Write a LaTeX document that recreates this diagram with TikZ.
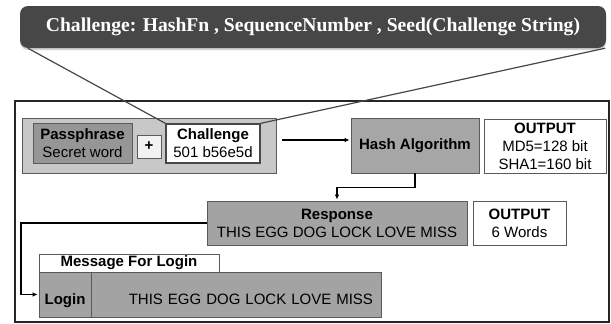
\documentclass[tikz,border=0pt]{standalone}
\usepackage{fontspec}
\setmainfont{Liberation Sans}
\newfontfamily\calloutfont{Liberation Serif}
\usetikzlibrary{arrows.meta, shadows}
\definecolor{darkbox}{HTML}{474747}
\definecolor{grpfill}{HTML}{C8C8C8}
\definecolor{passfill}{HTML}{969696}
\definecolor{plusfill}{HTML}{F2F2F2}
\definecolor{hashfill}{HTML}{A6A6A6}
\definecolor{respfill}{HTML}{A3A3A3}
\definecolor{boxline}{HTML}{5A5A5A}

\begin{document}
\begin{tikzpicture}[x=1pt, y=-1pt,
  txt/.style = {font=\fontsize{15}{18}\selectfont, align=center, inner sep=0pt},
  grybox/.style = {txt, draw=boxline, line width=0.8pt, fill=#1},
  arr/.style = {-{Latex[length=5pt,width=4.5pt]}, line width=1.4pt, shorten >=1pt},
  pointer/.style = {draw=darkbox, line width=1.2pt}]
\path[use as bounding box, fill=white] (0,0) rectangle (611,324);
% outer frame
\draw[line width=1.5pt, draw=black!85] (15,101) rectangle (609,322);
% callout
\node[fill=darkbox, rounded corners=8pt, minimum width=586, minimum height=42,
  drop shadow={opacity=0.35, shadow xshift=0pt, shadow yshift=-2pt},
  text=white, font=\calloutfont\bfseries\fontsize{19.6}{22}\selectfont] (callout) at (313,27)
  {Challenge: HashFn , SequenceNumber , Seed(Challenge String)};
% first row
\node[grybox=grpfill, minimum width=254, minimum height=55] (grp) at (149,145.5) {};
\node[grybox=passfill, minimum width=99, minimum height=40] (pass) at (82.5,143)
  {\textbf{Passphrase}\\Secret word};
\node[grybox=plusfill, minimum width=24, minimum height=23] (plus) at (149,146.5) {\textbf{+}};
\node[grybox=white, draw=darkbox, line width=1.3pt, minimum width=94, minimum height=39] (chal) at (213,143.5)
  {\textbf{Challenge}\\501 b56e5d};
\node[grybox=hashfill, minimum width=128, minimum height=55] (hash) at (415,145.5) {\textbf{Hash Algorithm}};
\node[grybox=white, minimum width=122, minimum height=54] (outa) at (545,146)
  {\textbf{OUTPUT}\\MD5=128 bit\\SHA1=160 bit};
% second row
\node[grybox=respfill, minimum width=260, minimum height=44] (resp) at (337,223)
  {\textbf{Response}\\THIS EGG DOG LOCK LOVE MISS};
\node[grybox=white, minimum width=93, minimum height=44] (outb) at (519.5,223) {\textbf{OUTPUT}\\6 Words};
% login message
\node[grybox=white, minimum width=180, minimum height=18] (tab) at (129,263) {\textbf{Message For Login}};
\node[grybox=respfill, minimum width=52, minimum height=45, text height=22pt, text depth=3pt] (login) at (65,294.5)
  {\textbf{Login}};
\node[grybox=respfill, minimum width=290, minimum height=45, text height=22pt, text depth=3pt,
  text width=274pt, align=right, inner xsep=8pt] (msg) at (236,294.5) {THIS EGG DOG LOCK LOVE MISS};
% connectors
\draw[pointer] ([xshift=8pt]callout.south west) -- (chal.north west);
\draw[pointer] ([xshift=-1pt]callout.south east) -- (chal.north east);
\draw[arr] ([xshift=6pt,yshift=5.5pt]grp.east) -- ([yshift=5.5pt]hash.west);
\draw[arr] (hash.south) -- ++(0,14) -| (resp.north);
\coordinate (bend) at (21,223);
\draw[arr] (resp.west) -- (bend) |- (login.west);
\end{tikzpicture}
\end{document}
